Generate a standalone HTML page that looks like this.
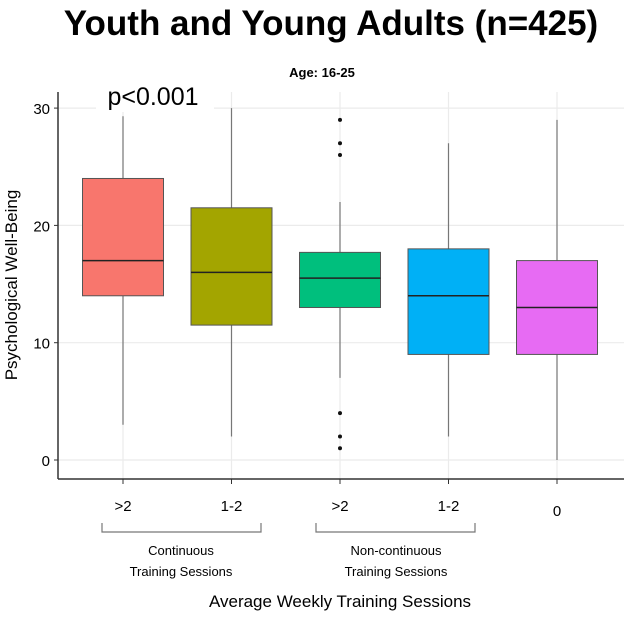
<!DOCTYPE html>
<html><head><meta charset="utf-8"><style>
body{margin:0;background:#fff;}
svg text{font-family:"Liberation Sans",sans-serif;}
</style></head><body>
<svg width="624" height="614" id="chart">
<text x="331" y="35" text-anchor="middle" font-size="35" font-weight="bold">Youth and Young Adults (n=425)</text>
<text x="322" y="77" text-anchor="middle" font-size="13" font-weight="bold">Age: 16-25</text>
<g id="grid"></g>
<g id="boxes"></g>
<rect x="96" y="84" width="118" height="28" fill="#fff"/>
<text x="153" y="105" text-anchor="middle" font-size="25">p&lt;0.001</text>
<line x1="58" y1="92" x2="58" y2="479" stroke="#333" stroke-width="1.5"/>
<line x1="58" y1="479" x2="624" y2="479" stroke="#333" stroke-width="1.5"/>
<g id="axes"></g>
<path d="M102,523 v9 h159 v-9" fill="none" stroke="#777" stroke-width="1.2"/>
<text x="181" y="555" text-anchor="middle" font-size="13">Continuous</text>
<text x="181" y="576" text-anchor="middle" font-size="13">Training Sessions</text>
<path d="M316,523 v9 h159 v-9" fill="none" stroke="#777" stroke-width="1.2"/>
<text x="396" y="555" text-anchor="middle" font-size="13">Non-continuous</text>
<text x="396" y="576" text-anchor="middle" font-size="13">Training Sessions</text>
<text x="340" y="607" text-anchor="middle" font-size="17">Average Weekly Training Sessions</text>
<text transform="translate(17,285) rotate(-90)" text-anchor="middle" font-size="17">Psychological Well-Being</text>
</svg>
<script>
const categories=[">2","1-2",">2","1-2","0"];
const mins=[3,2,7,2,0];
const q1s=[14,11.5,13,9,9];
const medians=[17,16,15.5,14,13];
const q3s=[24,21.5,17.7,18,17];
const maxs=[29.3,30,22,27,29];
const outliers=[[],[],[29,27,26,4,2,1],[],[]];
const colors=["#F8766D","#A3A500","#00BF7D","#00B0F6","#E76BF3"];
const yTicks=[0,10,20,30];
const NS="http://www.w3.org/2000/svg";
function y(v){return 460-v*11.73;}
function x(i){return 123+i*108.5;}
function mk(tag,attrs,parent){const e=document.createElementNS(NS,tag);for(const k in attrs)e.setAttribute(k,attrs[k]);parent.appendChild(e);return e;}
const grid=document.getElementById('grid'),boxes=document.getElementById('boxes'),axes=document.getElementById('axes');
yTicks.forEach(t=>{
 const l=mk('line',{x1:58,x2:624,y1:y(t),y2:y(t),stroke:'#ebebeb','stroke-width':1.2},grid);
 
 
 const tk=mk('line',{x1:54,x2:58,y1:y(t),y2:y(t),stroke:'#333'},axes);
 
 
 const tx=mk('text',{x:50,y:y(t)+6,'text-anchor':'end','font-size':15},axes);
 tx.textContent=t;
 
 
});
categories.forEach((c,i)=>{
 const cx=x(i),w=81;
 const g=mk('line',{x1:cx,x2:cx,y1:92,y2:479,stroke:'#ebebeb','stroke-width':1.2},grid);
 
 
 const wh=mk('line',{x1:cx,x2:cx,y1:y(maxs[i]),y2:y(mins[i]),stroke:'#777','stroke-width':1.2},boxes);
 
 
 const r=mk('rect',{x:cx-w/2,width:w,y:y(q3s[i]),height:y(q1s[i])-y(q3s[i]),fill:colors[i],stroke:'#555','stroke-width':1},boxes);
 
 
 const m=mk('line',{x1:cx-w/2,x2:cx+w/2,y1:y(medians[i]),y2:y(medians[i]),stroke:'#222','stroke-width':1.5},boxes);
 
 
 outliers[i].forEach(o=>{
  const d=mk('circle',{cx:cx,cy:y(o),r:2,fill:'#111'},boxes);
  
  
 });
 const tk=mk('line',{x1:cx,x2:cx,y1:479,y2:484,stroke:'#333'},axes);
 
 
 const tx=mk('text',{x:cx,y:i==4?516:511,'text-anchor':'middle','font-size':15},axes);
 tx.textContent=c;
 
 
});
</script>
</body></html>
